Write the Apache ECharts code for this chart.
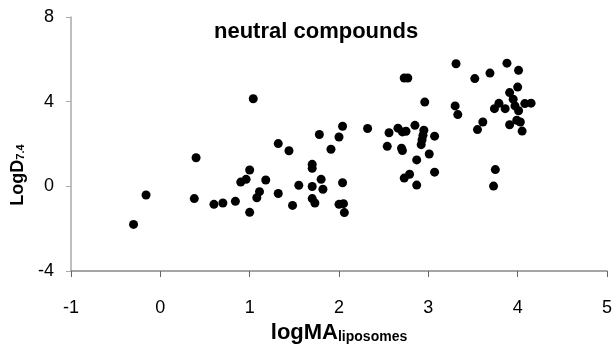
<!DOCTYPE html>
<html>
<head>
<meta charset="utf-8">
<script src="https://cdn.jsdelivr.net/npm/echarts@6/dist/echarts.min.js"></script>
<style>
  html, body { margin: 0; padding: 0; background: #fff; }
  #main { width: 614px; height: 347px; }
</style>
</head>
<body>
<div id="main"></div>
<script>
// logMA (liposomes) vs LogD7.4, neutral compounds
var logMA = [
  -0.30, -0.16, 0.40, 0.38, 0.60, 0.70, 0.84, 0.90, 0.96, 1.00,
  1.00, 1.04, 1.11, 1.08, 1.18, 1.32, 1.32, 1.44, 1.48, 1.55,
  1.70, 1.70, 1.70, 1.80, 1.82, 1.70, 1.73, 1.78, 1.91, 2.00,
  2.04, 2.04, 2.00, 2.05, 2.06, 2.32, 2.54, 2.56, 2.66, 2.71,
  2.75, 2.70, 2.71, 2.73, 2.77, 2.85, 2.87, 2.73, 2.79, 2.87,
  2.95, 2.94, 2.93, 2.92, 2.96, 3.07, 3.01, 3.07, 3.31, 3.52,
  3.30, 3.33, 3.69, 3.88, 4.01, 4.00, 3.91, 3.79, 3.74, 3.86,
  3.95, 3.97, 4.01, 4.08, 4.15, 3.61, 3.55, 3.91, 3.99, 4.03,
  4.05, 3.75, 3.73
];
var logD = [
  -1.80, -0.41, 1.35, -0.58, -0.85, -0.79, -0.71, 0.20, 0.33, 0.77,
  -1.23, 4.14, -0.25, -0.54, 0.30, -0.34, 2.02, 1.68, -0.90, 0.05,
  1.04, 0.85, -0.01, 0.33, -0.14, -0.58, -0.79, 2.45, 1.75, 2.33,
  2.84, 0.17, -0.85, -0.82, -1.24, 2.73, 1.89, 2.53, 2.75, 2.57,
  2.60, 1.80, 1.69, 5.12, 5.12, 2.88, 1.25, 0.39, 0.57, 0.06,
  2.65, 2.41, 2.20, 1.97, 3.98, 2.37, 1.53, 0.67, 5.79, 5.09,
  3.80, 3.39, 5.35, 5.82, 5.48, 4.69, 4.43, 3.92, 3.67, 3.67,
  4.12, 3.80, 3.57, 3.91, 3.93, 3.04, 2.68, 2.91, 3.12, 3.04,
  2.61, 0.79, 0.01
];
var xTicks = { min: -1, max: 5, step: 1 };
var yTicks = { min: -4, max: 8, step: 4 };

var points = [];
for (var i = 0; i < logMA.length; i++) {
  points.push([logMA[i], logD[i]]);
}

var font = 'Liberation Sans, Arial, sans-serif';
var myChart = echarts.init(document.getElementById('main'));

var option = {
  backgroundColor: '#fff',
  animation: false,
  title: {
    text: 'neutral compounds',
    left: 209,
    top: 16,
    textStyle: { fontFamily: font, fontSize: 22, fontWeight: 'bold', color: '#000' }
  },
  grid: { left: 71, right: 7, top: 17, bottom: 76, containLabel: false, outerBoundsMode: 'none' },
  xAxis: {
    type: 'value',
    min: xTicks.min, max: xTicks.max, interval: xTicks.step,
    splitLine: { show: false },
    axisLine: { onZero: false, lineStyle: { color: '#888', width: 1.5 } },
    axisTick: { show: true, inside: false, length: 6, lineStyle: { color: '#666' } },
    axisLabel: { margin: 28, fontFamily: font, fontSize: 18, color: '#000' },
    name: '{a|logMA}{b|liposomes}',
    nameLocation: 'middle',
    nameGap: 46,
    nameTextStyle: {
      rich: {
        a: { fontFamily: font, fontSize: 22, fontWeight: 'bold', color: '#000' },
        b: { fontFamily: font, fontSize: 14, fontWeight: 'bold', color: '#000', padding: [9, 0, 0, 0] }
      }
    }
  },
  yAxis: {
    type: 'value',
    min: yTicks.min, max: yTicks.max, interval: yTicks.step,
    splitLine: { show: false },
    axisLine: { show: true, onZero: false, lineStyle: { color: '#aaa', width: 1.5 } },
    axisTick: { show: true, inside: false, length: 5, lineStyle: { color: '#aaa' } },
    axisLabel: { margin: 17, fontFamily: font, fontSize: 18, color: '#000' },
    name: '{a|LogD}{b|7.4}',
    nameLocation: 'middle',
    nameRotate: 90,
    nameGap: 34,
    nameTextStyle: {
      padding: [0, 62, 0, 0],
      rich: {
        a: { fontFamily: font, fontSize: 18, fontWeight: 'bold', color: '#000' },
        b: { fontFamily: font, fontSize: 11, fontWeight: 'bold', color: '#000', padding: [6, 0, 0, 0] }
      }
    }
  },
  series: [{
    type: 'scatter',
    data: points,
    symbol: 'circle',
    symbolSize: 9,
    itemStyle: { color: '#000', opacity: 1 }
  }]
};
myChart.setOption(option);
</script>
</body>
</html>
